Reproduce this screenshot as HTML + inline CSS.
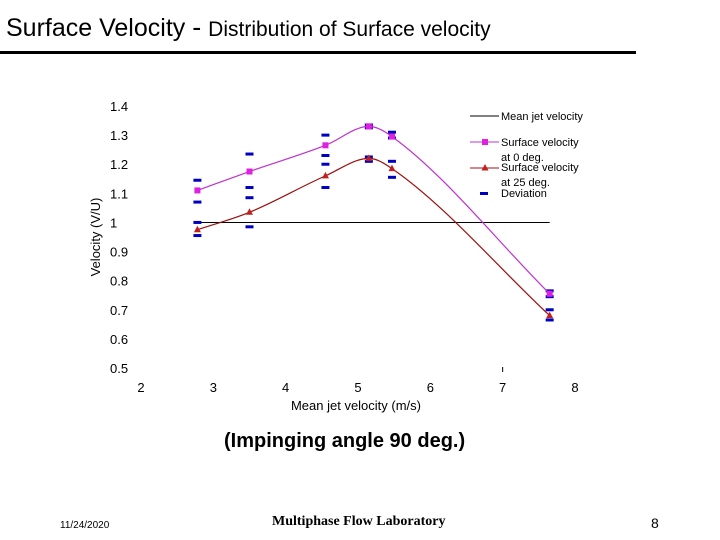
<!DOCTYPE html>
<html><head><meta charset="utf-8"><style>
body{margin:0;width:720px;height:540px;background:#fff;position:relative;overflow:hidden;font-family:"Liberation Sans",sans-serif}
.a{position:absolute;white-space:nowrap}
</style></head><body>
<div class="a" style="left:6px;top:12px;font-size:25px;color:#000">Surface Velocity <span style="font-size:27px">-</span> <span style="font-size:21px">Distribution of Surface velocity</span></div>
<div class="a" style="left:0;top:51px;width:636px;height:3px;background:#000"></div>
<svg class="a" style="left:0;top:0" width="720" height="540" id="chart" font-family="Liberation Sans, sans-serif"></svg>
<div class="a" style="left:224px;top:430px;font-size:20px;font-weight:bold">(Impinging angle 90 deg.)</div>
<div class="a" style="left:60px;top:520px;font-size:10px">11/24/2020</div>
<div class="a" style="left:272px;top:514px;font-size:14px;font-weight:bold;font-family:'Liberation Serif',serif">Multiphase Flow Laboratory</div>
<div class="a" style="left:651px;top:515px;font-size:14px">8</div>
<script>
const xs=[2.78,3.5,4.55,5.15,5.47,7.65];
const surf0=[1.11,1.175,1.265,1.33,1.295,0.755];
const surf25=[0.975,1.035,1.16,1.22,1.185,0.68];
const dev=[[1.145,1.07,1.0,0.955],[1.235,1.12,1.085,0.985],[1.30,1.23,1.20,1.12],[1.335,1.325,1.225,1.21],[1.31,1.29,1.21,1.155],[0.765,0.745,0.70,0.665]];
const yTicks=["1.4","1.3","1.2","1.1","1","0.9","0.8","0.7","0.6","0.5"];
const xTicks=["2","3","4","5","6","7","8"];
const meanVel=1.0;
const svg=document.getElementById('chart');const NS='http://www.w3.org/2000/svg';
const X=v=>141+(v-2)*72.33, Y=v=>368-(v-0.5)*291.1;
function mk(t,a,p){const e=document.createElementNS(NS,t);for(const k in a)e.setAttribute(k,a[k]);(p||svg).appendChild(e);return e;}
yTicks.forEach(t=>{const e=mk('text',{x:110,y:Y(+t)+5,'font-size':13});e.textContent=t;

});
xTicks.forEach(t=>{const e=mk('text',{x:X(+t),y:392,'font-size':13,'text-anchor':'middle'});e.textContent=t;

});
let e=mk('text',{x:356,y:410,'font-size':13,'text-anchor':'middle'});e.textContent='Mean jet velocity (m/s)';


e=mk('text',{x:0,y:0,'font-size':13,'text-anchor':'middle',transform:'translate(100,237) rotate(-90)'});e.textContent='Velocity (V/U)';


mk('line',{x1:X(7),x2:X(7),y1:367,y2:372,stroke:'#000'});
e=mk('line',{x1:X(xs[0]),x2:X(xs[5]),y1:Y(meanVel),y2:Y(meanVel),stroke:'#000','stroke-width':1});


function curve(vals,col,name){const p=xs.map((x,i)=>[X(x),Y(vals[i])]);const n=p.length;
const s=[];for(let i=0;i<n-1;i++)s.push((p[i+1][1]-p[i][1])/(p[i+1][0]-p[i][0]));
const m=p.map((_,i)=>{if(i==0)return s[0];if(i==n-1)return s[n-2];if(s[i-1]*s[i]<=0)return 0;return (s[i-1]+s[i])/2;});
let d='M'+p[0];for(let i=0;i<n-1;i++){const h=(p[i+1][0]-p[i][0])/3;
d+=` C${p[i][0]+h},${p[i][1]+m[i]*h} ${p[i+1][0]-h},${p[i+1][1]-m[i+1]*h} ${p[i+1][0]},${p[i+1][1]}`;}
const l=mk('path',{d:d,fill:'none',stroke:col,'stroke-width':1.2});

return p;}
dev.forEach((arr,i)=>arr.forEach(v=>{const r=mk('rect',{x:X(xs[i])-4,y:Y(v)-1.5,width:8,height:3,fill:'#0000c0'});

}));
curve(surf0,'#c030d0','surface-0deg-line').forEach(p=>{const r=mk('rect',{x:p[0]-3,y:p[1]-3,width:6,height:6,fill:'#e020e0'});

});
curve(surf25,'#a01010','surface-25deg-line').forEach(p=>{const r=mk('polygon',{points:`${p[0]},${p[1]-4} ${p[0]-3.5},${p[1]+2.5} ${p[0]+3.5},${p[1]+2.5}`,fill:'#c02020'});

});
const g=mk('g',{});
mk('line',{x1:470,x2:499,y1:116,y2:116,stroke:'#000'},g);
mk('line',{x1:470,x2:499,y1:142,y2:142,stroke:'#c030d0'},g);mk('rect',{x:482,y:139,width:6,height:6,fill:'#e020e0'},g);
mk('line',{x1:470,x2:499,y1:168,y2:168,stroke:'#a01010'},g);mk('polygon',{points:'485,164 481.5,170.5 488.5,170.5',fill:'#c02020'},g);
mk('rect',{x:480,y:192,width:8,height:3,fill:'#0000c0'},g);
[['Mean jet velocity',120],['Surface velocity',146],['at 0 deg.',161],['Surface velocity',171],['at 25 deg.',186],['Deviation',197]].forEach(([t,y])=>{const s=mk('text',{x:501,y:y,'font-size':11},g);s.textContent=t;});
</script>
</body></html>
